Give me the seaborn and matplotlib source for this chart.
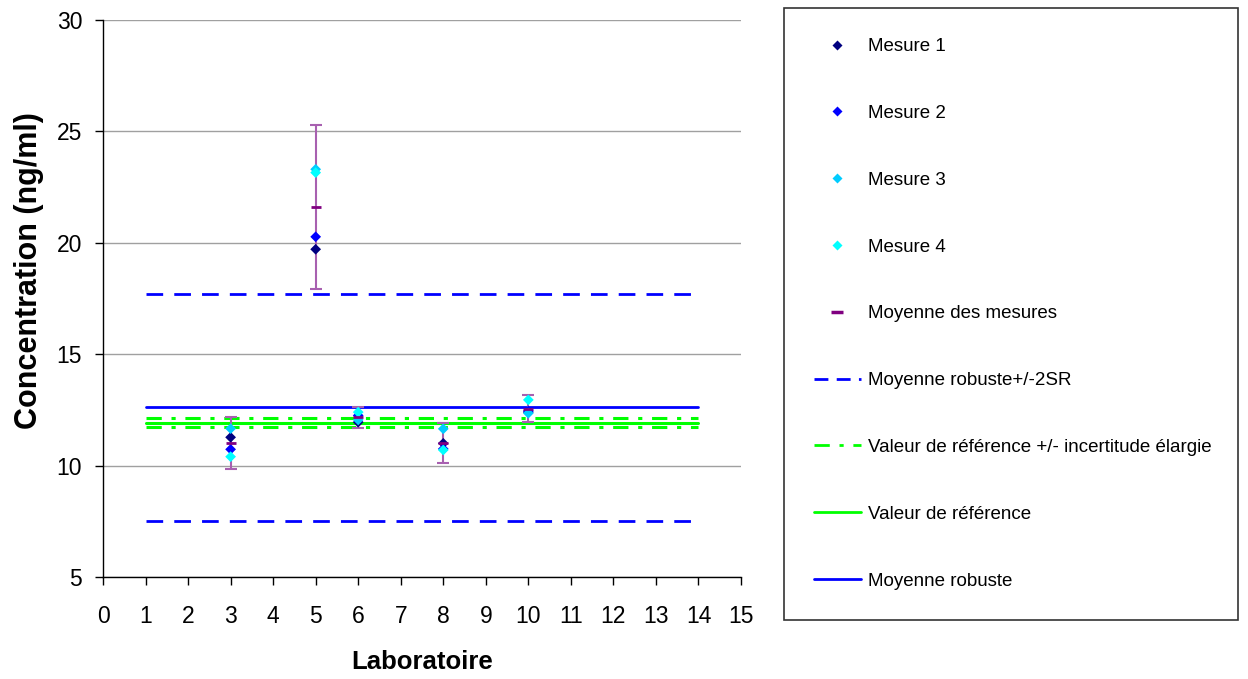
import numpy as np
import pandas as pd
import matplotlib
matplotlib.use("Agg")
import matplotlib.pyplot as plt
from matplotlib.lines import Line2D
import seaborn as sns

# ---- data ----
labs = [3, 5, 6, 8, 10]
mesure1 = [11.27, 19.71, 11.95, 11.00, 12.40]
mesure2 = [10.73, 20.27, 12.25, 10.75, 12.45]
mesure3 = [11.66, 23.30, 12.05, 11.65, 12.35]
mesure4 = [10.40, 23.15, 12.40, 10.70, 12.95]
moyenne = [11.02, 21.61, 12.16, 11.03, 12.55]
erreur = [1.17, 3.68, 0.48, 0.90, 0.60]

lab_range = [1, 14]
moyenne_robuste = 12.63
robuste_haut = 17.70
robuste_bas = 7.51
valeur_ref = 11.91
ref_haut = 12.14
ref_bas = 11.73

series_names = ["Mesure 1", "Mesure 2", "Mesure 3", "Mesure 4"]
series_colors = ["#000080", "#0000FF", "#00CCFF", "#00FFFF"]

sns.set_theme(style="white")
plt.rcParams["font.family"] = ["Liberation Sans", "DejaVu Sans"]
plt.rcParams["lines.scale_dashes"] = False
for k in ["text.color", "axes.labelcolor", "xtick.color", "ytick.color"]:
    plt.rcParams[k] = "black"

fig = plt.figure(figsize=(12.48, 6.79), dpi=100)
ax = fig.add_axes([103 / 1248, 1 - 577 / 679, 638 / 1248, 557 / 679])

# horizontal reference lines
def hline(y, color, ls, lw):
    d = pd.DataFrame({"x": lab_range, "y": [y, y]})
    sns.lineplot(data=d, x="x", y="y", ax=ax, color=color, lw=lw, linestyle=ls, zorder=2)

blue_dash = (0, (12, 8))
green_dash = (0, (11, 7, 3, 7))
hline(robuste_haut, "#0000FF", blue_dash, 2.0)
hline(robuste_bas, "#0000FF", blue_dash, 2.0)
hline(ref_haut, "#00FF00", green_dash, 2.2)
hline(ref_bas, "#00FF00", green_dash, 2.2)
hline(valeur_ref, "#00FF00", "-", 2.2)
hline(moyenne_robuste, "#0000FF", "-", 2.0)

# error bars around mean
ax.errorbar(labs, moyenne, yerr=erreur, fmt="none", ecolor="#A860B0",
            elinewidth=1.5, capsize=4, capthick=1.5, zorder=3)

# measurements
long_df = pd.DataFrame({
    "Laboratoire": labs * 4,
    "Concentration": mesure1 + mesure2 + mesure3 + mesure4,
    "Serie": sum([[n] * len(labs) for n in series_names], []),
})
sns.scatterplot(data=long_df, x="Laboratoire", y="Concentration", hue="Serie",
                palette=dict(zip(series_names, series_colors)), marker="D",
                s=30, edgecolor="none", ax=ax, zorder=4, legend=False)

# mean markers
sns.scatterplot(x=labs, y=moyenne, marker="_", s=60, color="#800080",
                linewidth=2.0, ax=ax, zorder=5, legend=False)

ax.set_xlim(0, 15)
ax.set_ylim(5, 30)
ax.set_xticks(range(0, 16))
ax.set_yticks(range(5, 31, 5))
ax.yaxis.grid(True, color="#A0A0A0", lw=1)
ax.xaxis.grid(False)
for s in ["top", "right"]:
    ax.spines[s].set_visible(False)
for s in ["left", "bottom"]:
    ax.spines[s].set_color("black")
    ax.spines[s].set_linewidth(1)
ax.tick_params(axis="both", which="major", direction="out", length=6, width=1,
               color="black", labelsize=16.5, left=True, bottom=True)
ax.tick_params(axis="x", pad=14)
ax.tick_params(axis="y", pad=9)
ax.set_xlabel("Laboratoire", fontsize=18.5, fontweight="bold", labelpad=16)
ax.set_ylabel("Concentration (ng/ml)", fontsize=22, fontweight="bold", labelpad=9)
ax.yaxis.label.set_y(0.55)

# legend
handles = [Line2D([], [], ls="none", marker="D", ms=5, color=c, mec="none") for c in series_colors]
handles.append(Line2D([], [], ls="none", marker="_", ms=9, mew=2.5, color="#800080"))
handles.append(Line2D([], [], color="#0000FF", lw=2, ls=(0, (10, 6))))
handles.append(Line2D([], [], color="#00FF00", lw=2, ls=(0, (11, 7, 3, 7))))
handles.append(Line2D([], [], color="#00FF00", lw=2, ls="-"))
handles.append(Line2D([], [], color="#0000FF", lw=2, ls="-"))
labels = series_names + ["Moyenne des mesures", "Moyenne robuste+/-2SR",
                         "Valeur de référence +/- incertitude élargie",
                         "Valeur de référence", "Moyenne robuste"]
leg = fig.legend(handles, labels, loc="upper left",
                 bbox_to_anchor=(784 / 1248, 1 - 8 / 679, 454 / 1248, 0.0),
                 mode="expand",
                 frameon=True, fancybox=False, edgecolor="black",
                 fontsize=13.5, labelspacing=2.65, handlelength=2.5,
                 handletextpad=0.4, borderpad=1.6, borderaxespad=0)
leg.get_frame().set_linewidth(1.2)
for t in leg.get_texts():
    t.set_color("black")

fig.savefig("out.png", dpi=100)
